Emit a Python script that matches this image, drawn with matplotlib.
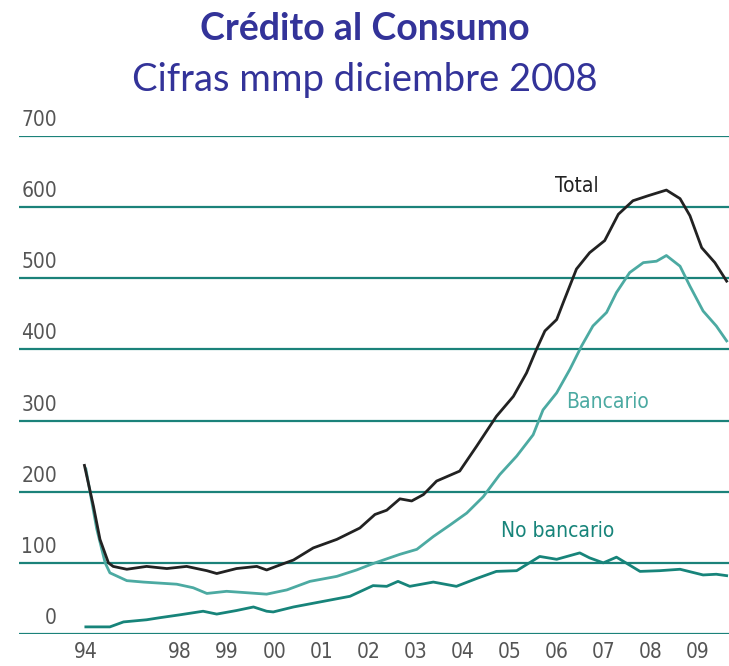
import matplotlib
matplotlib.use("Agg")
import matplotlib.pyplot as plt
from matplotlib.transforms import ScaledTranslation

# x is axis position in years after 1998; the 94-98 stretch is compressed on the original
tick_pos = [-2, 0, 1, 2, 3, 4, 5, 6, 7, 8, 9, 10, 11]
tick_labels = ["94", "98", "99", "00", "01", "02", "03", "04", "05", "06", "07", "08", "09"]
y_ticks = [0, 100, 200, 300, 400, 500, 600, 700]

total_x = [-2.03, -1.84, -1.70, -1.52, -1.42, -1.13, -0.71, -0.28, 0.14, 0.57, 0.78,
           1.20, 1.63, 1.84, 2.12, 2.41, 2.83, 3.33, 3.82, 4.14, 4.39, 4.67, 4.92,
           5.17, 5.45, 5.94, 6.30, 6.72, 7.08, 7.36, 7.57, 7.75, 8.00, 8.14, 8.42,
           8.70, 9.02, 9.31, 9.62, 9.94, 10.33, 10.62, 10.83, 11.08, 11.36, 11.61]
total_y = [237, 180, 133, 100, 95, 91, 95, 92, 95, 89, 85,
           92, 95, 90, 97, 104, 121, 133, 149, 168, 174, 190, 187,
           196, 215, 229, 264, 306, 334, 367, 400, 426, 442, 466, 513,
           536, 553, 590, 609, 616, 624, 612, 588, 543, 522, 496]

banc_x = [-2.0, -1.77, -1.59, -1.49, -1.13, -0.78, -0.07, 0.28, 0.57, 0.99, 1.42,
          1.84, 2.27, 2.76, 3.33, 3.75, 4.10, 4.67, 5.03, 5.38, 5.73, 6.09, 6.44,
          6.79, 7.15, 7.50, 7.71, 8.00, 8.28, 8.53, 8.77, 9.06, 9.27, 9.55, 9.84,
          10.12, 10.33, 10.62, 10.83, 11.11, 11.39, 11.61]
banc_y = [232, 148, 100, 86, 75, 73, 70, 65, 57, 60, 58,
          56, 62, 74, 81, 90, 99, 112, 119, 137, 153, 170, 193,
          224, 250, 280, 315, 339, 372, 405, 433, 452, 480, 508, 522,
          524, 532, 517, 489, 454, 433, 412]

nob_x = [-2.0, -1.49, -1.20, -0.71, -0.42, 0.0, 0.49, 0.78, 1.20, 1.56, 1.84,
         1.98, 2.41, 2.97, 3.61, 4.10, 4.39, 4.63, 4.88, 5.38, 5.87, 6.30, 6.72,
         7.15, 7.64, 8.00, 8.49, 8.70, 8.99, 9.27, 9.77, 10.19, 10.62, 11.11,
         11.39, 11.61]
nob_y = [10, 10, 17, 20, 23, 27, 32, 28, 33, 38, 32,
         31, 38, 45, 53, 68, 67, 74, 67, 73, 67, 78, 88,
         89, 109, 105, 114, 107, 100, 108, 88, 89, 91, 83,
         84, 82]

GRID = "#1b827a"
BANC = "#4caaa2"
NOB = "#17847a"
TOTAL = "#222222"
LABEL_GRAY = "#555555"
TITLE = "#333399"

fig = plt.figure(figsize=(7.29, 6.66), dpi=100)
ax = fig.add_axes([19 / 729, 32 / 666, 1 - 19 / 729, 498 / 666])
ax.set_xlim(-3.42, 11.66)
ax.set_ylim(0, 700)

for v in y_ticks:
    ax.axhline(v, color=GRID, lw=1.6, zorder=1)

ax.plot(nob_x, nob_y, color=NOB, lw=2.0, zorder=3)
ax.plot(banc_x, banc_y, color=BANC, lw=2.0, zorder=3)
ax.plot(total_x, total_y, color=TOTAL, lw=2.0, zorder=4)

for s in ax.spines.values():
    s.set_visible(False)

lab_font = dict(family="DejaVu Sans", stretch="condensed", size=15)

ax.set_yticks([])
off = ScaledTranslation(0, 0.1, fig.dpi_scale_trans)
for v in y_ticks:
    ax.text(38 / 710, v, str(v), transform=ax.get_yaxis_transform() + off,
            ha="right", va="baseline", color=LABEL_GRAY, **lab_font)

ax.set_xticks(tick_pos)
ax.set_xticklabels(tick_labels, color=LABEL_GRAY, **lab_font)
ax.tick_params(axis="x", length=0, pad=6)

ax.text(8.42, 630, "Total", color=TOTAL, ha="center", va="center", **lab_font)
ax.text(9.09, 326, "Bancario", color=BANC, ha="center", va="center", **lab_font)
ax.text(8.03, 145, "No bancario", color=NOB, ha="center", va="center", **lab_font)

fig.text(0.5, 1 - 29 / 666, "Crédito al Consumo", ha="center", va="center",
         color=TITLE, fontsize=27, fontweight="bold", family="Lato")
fig.text(0.5, 1 - 80 / 666, "Cifras mmp diciembre 2008", ha="center", va="center",
         color=TITLE, fontsize=27.5, family="Lato")

fig.savefig("out.png", dpi=100)
